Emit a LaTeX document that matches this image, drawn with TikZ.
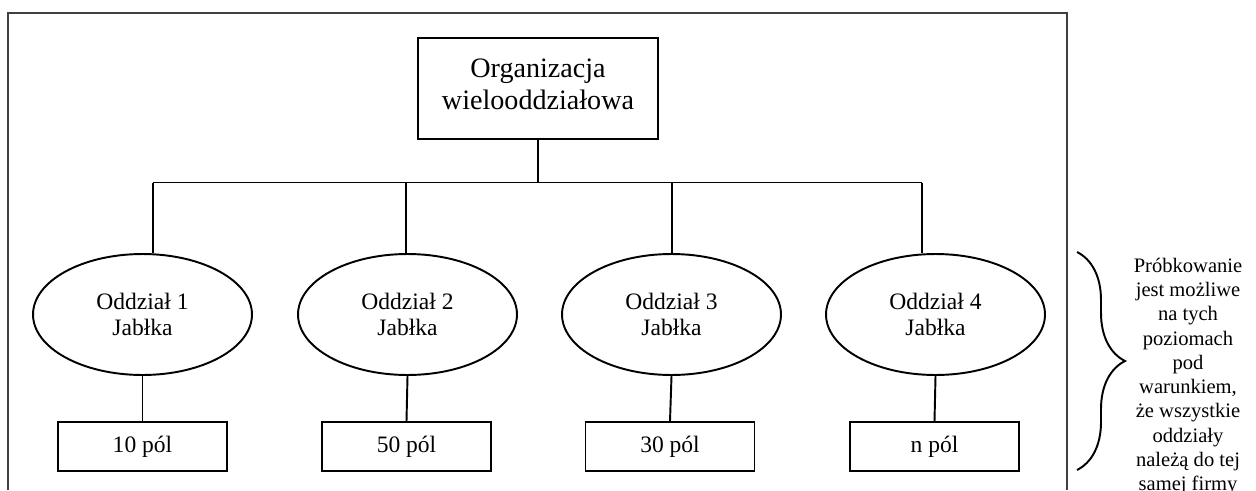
\documentclass[tikz,border=0pt]{standalone}
\usepackage{fontspec}
\setmainfont{Liberation Serif}
\usetikzlibrary{shapes.geometric,decorations.pathreplacing}
\begin{document}
\begin{tikzpicture}[x=0.02cm, y=-0.02cm, line width=1.1pt,
        txt/.style = {font=\fontsize{13.4}{14.8}\selectfont},
        box/.style = {draw, rectangle, txt, inner sep=0pt, minimum width=3.38cm, minimum height=0.98cm},
        oval/.style = {draw, ellipse, txt, align=center, inner sep=0pt, minimum width=4.38cm, minimum height=2.42cm}]
    \useasboundingbox (0,0) rectangle (1256,490);
    \draw[line width=0.8pt, black!75] (8,490) |- (1067,13) -- (1067,490);

    \node[box, minimum width=4.8cm, minimum height=2.02cm,
        label={[align=center, yshift=0.08cm, font=\fontsize{16}{18}\selectfont]center:Organizacja\\wielooddziałowa}] (org) at (538,88.5) {};

    \node[oval] (o1) at (142.5,314.5) {Oddział 1\\Jabłka};
    \node[oval] (o2) at (407.5,314.5) {Oddział 2\\Jabłka};
    \node[oval] (o3) at (671.5,314.5) {Oddział 3\\Jabłka};
    \node[oval] (o4) at (935.5,314.5) {Oddział 4\\Jabłka};

    \node[box] (p1) at (142.5,446.5) {10 pól};
    \node[box] (p2) at (406.5,446.5) {50 pól};
    \node[box] (p3) at (670,446.5)   {30 pól};
    \node[box] (p4) at (934.5,446.5) {n pól};

    % szyna
    \coordinate (b1) at (153,182.5);
    \coordinate (b2) at (406,182.5);
    \coordinate (b3) at (672,182.5);
    \coordinate (b4) at (922,182.5);
    \draw (b1) -- (b4);
    \draw (org.south) -- (org.south |- b1);

    \foreach \i in {1,...,4} {
        \draw (b\i) -- (b\i |- o\i.north);
        \draw (o\i.south) -- (p\i.north);
    }

    % klamra
    \coordinate (kt) at (1077,252);
    \coordinate (kb) at (1077,470);
    \draw[decorate, decoration={brace, amplitude=0.96cm}] (kt) -- (kb);

    \node[align=center, font=\fontsize{11.7}{13.8}\selectfont] (opis) at (1188,376.5)
        {Próbkowanie\\jest możliwe\\na tych\\poziomach\\pod\\warunkiem,\\że wszystkie\\oddziały\\należą do tej\\samej firmy};

\end{tikzpicture}
\end{document}
